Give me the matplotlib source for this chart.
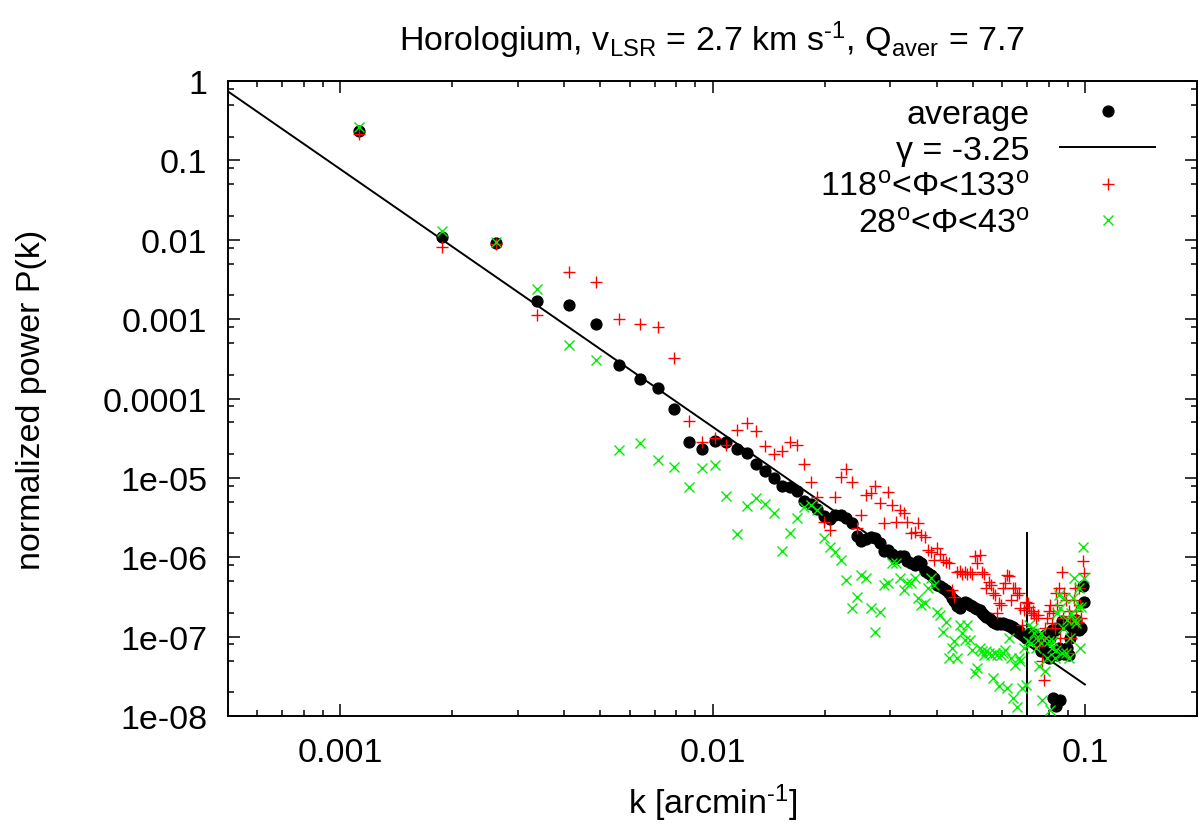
import numpy as np
import matplotlib
matplotlib.use("Agg")
import matplotlib.pyplot as plt
from matplotlib.ticker import FixedLocator, LogLocator, FuncFormatter, NullFormatter

plt.rcParams["font.family"] = ["Liberation Sans", "DejaVu Sans"]
plt.rcParams["mathtext.fontset"] = "custom"
plt.rcParams["mathtext.rm"] = "Liberation Sans"
plt.rcParams["mathtext.it"] = "Liberation Sans:italic"
plt.rcParams["mathtext.bf"] = "Liberation Sans:bold"

# wavenumber grid (arcmin^-1), shared by all three series
k = [
    0.001125, 0.001875, 0.002625, 0.003375, 0.004125, 0.004875, 0.005625, 0.006375,
    0.007125, 0.007875, 0.008625, 0.009375, 0.010125, 0.010875, 0.011625, 0.012375,
    0.013125, 0.013875, 0.014625, 0.015375, 0.016125, 0.016875, 0.017625, 0.018375,
    0.019125, 0.019875, 0.020625, 0.021375, 0.022125, 0.022875, 0.023625, 0.024375,
    0.025125, 0.025875, 0.026625, 0.027375, 0.028125, 0.028875, 0.029625, 0.030375,
    0.031125, 0.031875, 0.032625, 0.033375, 0.034125, 0.034875, 0.035625, 0.036375,
    0.037125, 0.037875, 0.038625, 0.039375, 0.040125, 0.040875, 0.041625, 0.042375,
    0.043125, 0.043875, 0.044625, 0.045375, 0.046125, 0.046875, 0.047625, 0.048375,
    0.049125, 0.049875, 0.050625, 0.051375, 0.052125, 0.052875, 0.053625, 0.054375,
    0.055125, 0.055875, 0.056625, 0.057375, 0.058125, 0.058875, 0.059625, 0.060375,
    0.061125, 0.061875, 0.062625, 0.063375, 0.064125, 0.064875, 0.065625, 0.066375,
    0.067125, 0.067875, 0.068625, 0.069375, 0.070125, 0.070875, 0.071625, 0.072375,
    0.073125, 0.073875, 0.074625, 0.075375, 0.076125, 0.076875, 0.077625, 0.078375,
    0.079125, 0.079875, 0.080625, 0.081375, 0.082125, 0.082875, 0.083625, 0.084375,
    0.085125, 0.085875, 0.086625, 0.087375, 0.088125, 0.088875, 0.089625, 0.090375,
    0.091125, 0.091875, 0.092625, 0.093375, 0.094125, 0.094875, 0.095625, 0.096375,
    0.097125, 0.097875, 0.098625, 0.099375,
]

p_average = [
    0.233, 0.0108, 0.00908, 0.00172, 0.00149, 8.77e-4, 2.68e-4, 1.77e-4,
    1.37e-4, 7.33e-5, 2.80e-5, 2.35e-5, 2.90e-5, 2.80e-5, 2.35e-5, 2.07e-5,
    1.49e-5, 1.22e-5, 1.01e-5, 7.82e-6, 7.60e-6, 6.76e-6, 5.06e-6, 4.64e-6,
    4.02e-6, 3.28e-6, 3.01e-6, 3.37e-6, 3.37e-6, 3.10e-6, 2.68e-6, 1.84e-6,
    1.59e-6, 1.68e-6, 1.78e-6, 1.73e-6, 1.50e-6, 1.19e-6, 1.22e-6, 1.09e-6,
    9.71e-7, 1.03e-6, 1.03e-6, 8.91e-7, 8.41e-7, 7.93e-7, 8.91e-7, 8.41e-7,
    6.67e-7, 6.30e-7, 5.94e-7, 5.45e-7, 4.45e-7, 4.32e-7, 4.07e-7, 3.84e-7,
    3.52e-7, 3.05e-7, 2.80e-7, 2.42e-7, 2.28e-7, 2.56e-7, 2.72e-7, 2.64e-7,
    2.49e-7, 2.42e-7, 2.28e-7, 2.22e-7, 2.16e-7, 2.00e-7, 1.87e-7, 1.76e-7,
    1.71e-7, 1.61e-7, 1.52e-7, 1.48e-7, 1.44e-7, 1.48e-7, 1.44e-7, 1.48e-7,
    1.44e-7, 1.40e-7, 1.40e-7, 1.36e-7, 1.32e-7, 1.24e-7, 1.21e-7, 1.17e-7,
    1.11e-7, 1.07e-7, 1.01e-7, 9.57e-8, 1.01e-7, 1.07e-7, 1.11e-7, 1.07e-7,
    1.01e-7, 9.57e-8, 8.28e-8, 7.60e-8, 6.57e-8, 7.16e-8, 8.28e-8, 1.04e-7,
    6.20e-8, 5.37e-8, 9.57e-8, 1.21e-7, 1.68e-8, 1.21e-7, 1.34e-8, 5.85e-8,
    7.16e-8, 1.59e-8, 1.57e-7, 1.44e-7, 6.02e-8, 6.57e-8, 7.16e-8, 5.85e-8,
    9.57e-8, 1.36e-7, 1.48e-7, 1.21e-7, 1.28e-7, 1.61e-7, 1.36e-7, 1.21e-7,
    1.28e-7, 1.28e-7, 4.32e-7, 2.72e-7,
]

p_red = [
    0.216, 8.1e-3, 8.9e-3, 1.12e-3, 3.92e-3, 2.94e-3, 1.01e-3, 8.77e-4,
    7.98e-4, 3.28e-4, 5.24e-5, 2.80e-5, 3.21e-5, 2.59e-5, 4.07e-5, 4.99e-5,
    3.88e-5, 2.53e-5, 2.03e-5, 2.17e-5, 2.80e-5, 2.59e-5, 1.52e-5, 8.95e-6,
    5.80e-6, 2.81e-6, 2.20e-6, 5.80e-6, 1.04e-5, 1.29e-5, 8.95e-6, 2.32e-6,
    3.40e-6, 6.08e-6, 6.38e-6, 7.98e-6, 4.78e-6, 2.68e-6, 6.70e-6, 4.55e-6,
    2.75e-6, 3.94e-6, 3.57e-6, 2.81e-6, 2.00e-6, 2.10e-6, 2.68e-6, 1.91e-6,
    1.82e-6, 1.24e-6, 1.18e-6, 9.25e-7, 1.30e-6, 1.09e-6, 9.25e-7, 8.83e-7,
    8.41e-7, 3.88e-7, 3.21e-7, 6.61e-7, 6.73e-7, 6.11e-7, 6.61e-7, 6.11e-7,
    6.61e-7, 6.11e-7, 1.05e-6, 8.41e-7, 1.07e-6, 6.61e-7, 6.11e-7, 4.07e-7,
    4.94e-7, 4.49e-7, 3.52e-7, 3.36e-7, 1.98e-7, 2.64e-7, 2.51e-7, 4.07e-7,
    4.71e-7, 5.98e-7, 5.89e-7, 2.90e-7, 4.07e-7, 4.07e-7, 3.36e-7, 3.52e-7,
    2.28e-7, 1.41e-7, 2.17e-7, 2.77e-7, 2.64e-7, 2.40e-7, 1.98e-7, 2.13e-7,
    1.88e-7, 1.71e-7, 1.88e-7, 7.53e-8, 9.57e-8, 4.88e-8, 2.86e-8, 1.28e-7,
    1.71e-7, 2.13e-7, 2.51e-7, 1.48e-7, 1.98e-7, 1.28e-7, 3.52e-7, 2.51e-7,
    4.07e-7, 9.57e-8, 6.61e-7, 1.71e-7, 3.52e-7, 2.90e-7, 6.20e-8, 2.13e-7,
    1.81e-7, 9.57e-8, 1.55e-7, 2.90e-7, 4.07e-7, 2.13e-7, 1.55e-7, 4.07e-7,
    2.51e-7, 1.71e-7, 8.98e-7, 6.30e-7,
]

p_green = [
    0.262, 0.0131, 9.52e-3, 2.42e-3, 4.78e-4, 3.03e-4, 2.28e-5, 2.77e-5,
    1.67e-5, 1.38e-5, 7.74e-6, 1.34e-5, 1.45e-5, 5.97e-6, 1.95e-6, 4.47e-6,
    5.52e-6, 4.64e-6, 3.57e-6, 1.20e-6, 2.00e-6, 3.10e-6, 4.35e-6, 4.55e-6,
    3.94e-6, 1.73e-6, 1.36e-6, 1.18e-6, 9.25e-7, 5.18e-7, 2.28e-7, 3.21e-7,
    5.98e-7, 5.45e-7, 2.28e-7, 1.16e-7, 2.07e-7, 4.49e-7, 4.71e-7, 8.41e-7,
    8.41e-7, 5.45e-7, 3.88e-7, 4.71e-7, 4.71e-7, 5.45e-7, 3.05e-7, 2.51e-7,
    2.64e-7, 4.07e-7, 5.45e-7, 4.49e-7, 2.07e-7, 1.88e-7, 1.16e-7, 1.55e-7,
    5.37e-8, 7.16e-8, 8.71e-8, 5.37e-8, 1.41e-7, 1.11e-7, 9.12e-8, 1.41e-7,
    9.12e-8, 6.82e-8, 3.47e-8, 4.02e-8, 7.16e-8, 6.52e-8, 5.90e-8, 6.52e-8,
    6.20e-8, 5.90e-8, 3.01e-8, 6.20e-8, 5.90e-8, 2.36e-8, 5.90e-8, 6.20e-8,
    6.82e-8, 2.25e-8, 9.57e-8, 5.37e-8, 1.68e-8, 4.42e-8, 1.32e-8, 5.37e-8,
    4.88e-8, 2.25e-8, 7.16e-8, 2.48e-8, 8.71e-8, 1.41e-7, 8.28e-8, 1.28e-7,
    1.11e-7, 7.16e-8, 9.12e-8, 4.22e-8, 1.11e-7, 1.60e-8, 9.12e-8, 3.65e-8,
    5.37e-8, 8.71e-8, 1.20e-8, 7.16e-8, 8.71e-8, 5.37e-8, 6.82e-8, 1.98e-7,
    3.36e-7, 2.28e-7, 6.20e-8, 1.28e-7, 3.05e-7, 6.20e-8, 1.62e-7, 5.37e-8,
    9.57e-8, 1.98e-7, 3.05e-7, 5.45e-7, 1.62e-7, 1.48e-7, 2.40e-7, 4.07e-7,
    7.16e-8, 2.40e-7, 1.36e-6, 5.45e-7,
]

# power-law fit, gamma = -3.25
fit_k = [0.0005, 0.1]
fit_p = [0.74, 2.5e-8]

# vertical marker at k = 0.07
vline_k = 0.07
vline_p = [1e-8, 2e-6]

FS = 24.5

fig = plt.figure(figsize=(12, 8.29), dpi=100)
ax = fig.add_axes([0.19, 0.135, 0.8075, 0.766])

ax.plot(k, p_average, "o", color="black", ms=7.8, label="average", zorder=3)
ax.plot(fit_k, fit_p, "-", color="black", lw=1.4, label="γ = -3.25", zorder=4)
ax.plot(k, p_red, "+", color="#ff0000", ms=8.5, mew=1.0,
        label=r"118$^{\mathrm{o}}$<Φ<133$^{\mathrm{o}}$", zorder=5)
ax.plot(k, p_green, "x", color="#00ee00", ms=7.5, mew=1.0,
        label=r"28$^{\mathrm{o}}$<Φ<43$^{\mathrm{o}}$", zorder=6)
ax.plot([vline_k, vline_k], vline_p, "-", color="black", lw=1.4, zorder=4)

ax.set_xscale("log")
ax.set_yscale("log")
ax.set_xlim(0.0005, 0.2)
ax.set_ylim(1e-8, 1)

ax.xaxis.set_major_locator(FixedLocator([0.001, 0.01, 0.1]))
ax.xaxis.set_minor_locator(LogLocator(base=10, subs=np.arange(2, 10)))
ax.yaxis.set_major_locator(LogLocator(base=10, numticks=20))
ax.yaxis.set_minor_locator(LogLocator(base=10, subs=[2, 5, 8], numticks=20))
fmt = FuncFormatter(lambda v, pos: "%g" % v)
ax.xaxis.set_major_formatter(fmt)
ax.yaxis.set_major_formatter(fmt)
ax.xaxis.set_minor_formatter(NullFormatter())
ax.yaxis.set_minor_formatter(NullFormatter())

ax.tick_params(which="both", direction="in", top=True, right=True, width=1.1,
               labelsize=FS, pad=15)
ax.tick_params(which="major", length=8.5)
ax.tick_params(which="minor", length=4.5)
for s in ax.spines.values():
    s.set_linewidth(1.4)

ax.set_title(r"Horologium, v$_{\mathrm{LSR}}$ = 2.7 km s$^{\text{-1}}$, Q$_{\mathrm{aver}}$ = 7.7",
             fontsize=FS, pad=22)
ax.set_xlabel(r"k [arcmin$^{\text{-1}}$]", fontsize=FS, labelpad=10)
ax.set_ylabel("normalized power P(k)", fontsize=FS, labelpad=40)

leg = ax.legend(loc="upper right", bbox_to_anchor=(0.957, 0.972), frameon=False,
                markerfirst=False, fontsize=FS, handlelength=2.8, handletextpad=0.9,
                labelspacing=0.16, borderpad=0, borderaxespad=0)

fig.savefig("out.png", dpi=100)
